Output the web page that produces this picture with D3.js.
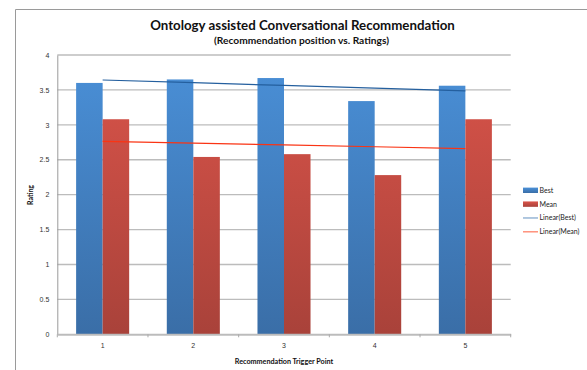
<!DOCTYPE html>
<html>
<head>
<meta charset="utf-8">
<script src="https://cdn.jsdelivr.net/npm/d3@7"></script>
<style>
  html, body { margin: 0; padding: 0; background: #fff; }
  svg { display: block; font-family: Lato, "Open Sans", sans-serif; }
</style>
</head>
<body>
<svg id="chart" width="587" height="370"></svg>
<script>
// Rating data per recommendation trigger point
const categories = ["1", "2", "3", "4", "5"];
const bestValues = [3.60, 3.65, 3.67, 3.34, 3.56];
const meanValues = [3.08, 2.54, 2.58, 2.28, 3.08];
const seriesNames = ["Best", "Mean"];
const yTicks = [0, 0.5, 1, 1.5, 2, 2.5, 3, 3.5, 4];
const yTickLabels = ["0", "0.5", "1", "1.5", "2", "2.5", "3", "3.5", "4"];
const legendLabels = ["Best", "Mean", "Linear(Best)", "Linear(Mean)"];

const svg = d3.select("#chart");
const plot = { left: 57.3, right: 510.7, top: 55, bottom: 334.3 };

// Chart frame
svg.append("path")
  .attr("d", "M15.5,600 V9.5 H700")
  .attr("fill", "none").attr("stroke", "#9a9a9a").attr("stroke-width", 1);

// Gradients for bars
const defs = svg.append("defs");
function grad(id, top, bottom, userSpace) {
  const g = defs.append("linearGradient").attr("id", id)
    .attr("x1", 0).attr("y1", 0).attr("x2", 0).attr("y2", 1);
  if (userSpace) {
    g.attr("gradientUnits", "userSpaceOnUse").attr("y1", plot.top).attr("y2", plot.bottom);
  }
  g.append("stop").attr("offset", "0%").attr("stop-color", top);
  g.append("stop").attr("offset", "100%").attr("stop-color", bottom);
}
grad("gBest", "#4a90d8", "#3a6ea7", true);
grad("gMean", "#da544a", "#a9423a", true);
grad("lgBest", "#4a90d8", "#3a6ea7", false);
grad("lgMean", "#da544a", "#a9423a", false);

const x = d3.scaleBand().domain(categories).range([plot.left, plot.right])
  .paddingInner(0.415).paddingOuter(0.2075);
const xs = d3.scaleBand().domain(seriesNames).range([0, x.bandwidth()]);
const xc = d3.scalePoint().domain(categories).range([plot.left, plot.right]).padding(0.5);
const y = d3.scaleLinear().domain([0, 4]).range([plot.bottom, plot.top]);

// Gridlines
svg.append("g").selectAll("line").data(yTicks.slice(1)).join("line")
  .attr("x1", plot.left).attr("x2", plot.right)
  .attr("y1", d => y(d)).attr("y2", d => y(d))
  .attr("stroke", "#bcbcbc").attr("stroke-width", 1.3);

// Y axis
const yAxis = svg.append("g").attr("transform", `translate(${plot.left},0)`)
  .call(d3.axisLeft(y).tickValues(yTicks).tickFormat((d, i) => yTickLabels[i]).tickSize(0).tickPadding(8));
yAxis.select(".domain").attr("stroke", "#9a9a9a").attr("stroke-width", 1);
yAxis.selectAll("text").attr("font-size", 7).attr("fill", "#333");

// Bars
const series = [
  { name: "Best", values: bestValues, fill: "url(#gBest)" },
  { name: "Mean", values: meanValues, fill: "url(#gMean)" }
];
series.forEach(s => {
  svg.append("g").selectAll("rect").data(categories).join("rect")
    .attr("x", c => x(c) + xs(s.name))
    .attr("width", xs.bandwidth())
    .attr("y", (c, i) => y(s.values[i]))
    .attr("height", (c, i) => y(0) - y(s.values[i]))
    .attr("fill", s.fill);
});

// X axis
const xAxis = svg.append("g").attr("transform", `translate(0,${plot.bottom})`)
  .call(d3.axisBottom(x).tickSize(0).tickPadding(9));
xAxis.select(".domain").attr("stroke", "#bcbcbc").attr("stroke-width", 2);
xAxis.selectAll("text").attr("font-size", 7).attr("fill", "#333");
// category separators
svg.append("g").selectAll("line").data(d3.range(categories.length + 1)).join("line")
  .attr("x1", i => plot.left + i * x.step()).attr("x2", i => plot.left + i * x.step())
  .attr("y1", plot.bottom).attr("y2", plot.bottom + 3)
  .attr("stroke", "#aaa").attr("stroke-width", 1);

// Linear trend lines (least squares fit)
function fit(vals) {
  const n = vals.length, xsv = d3.range(1, n + 1);
  const mx = d3.mean(xsv), my = d3.mean(vals);
  const slope = d3.sum(xsv, (xv, i) => (xv - mx) * (vals[i] - my)) / d3.sum(xsv, xv => (xv - mx) ** 2);
  return xsv.map(xv => my + slope * (xv - mx));
}
const line = d3.line().x((d, i) => xc(categories[i])).y(d => y(d));
svg.append("path").datum(fit(bestValues)).attr("d", line)
  .attr("fill", "none").attr("stroke", "#245f9e").attr("stroke-width", 1.2);
svg.append("path").datum(fit(meanValues)).attr("d", line)
  .attr("fill", "none").attr("stroke", "#fa3414").attr("stroke-width", 1.2);

// Titles
svg.append("text").attr("x", 302.5).attr("y", 29.5).attr("text-anchor", "middle")
  .attr("font-size", 13.3).attr("font-weight", "bold").attr("fill", "#111")
  .text("Ontology assisted Conversational Recommendation");
svg.append("text").attr("x", 301.5).attr("y", 43.5).attr("text-anchor", "middle")
  .attr("font-size", 10.2).attr("font-weight", "bold").attr("fill", "#111")
  .text("(Recommendation position vs. Ratings)");
svg.append("text").attr("x", 284).attr("y", 364).attr("text-anchor", "middle")
  .attr("font-size", 7.2).attr("font-weight", "bold").attr("fill", "#111")
  .text("Recommendation Trigger Point");
svg.append("text").attr("transform", "translate(33,195) rotate(-90)").attr("text-anchor", "middle")
  .attr("font-size", 7).attr("font-weight", "bold").attr("fill", "#111")
  .text("Rating");

// Legend
const legendStyles = [
  { type: "rect", fill: "url(#lgBest)" },
  { type: "rect", fill: "url(#lgMean)" },
  { type: "line", stroke: "#8fb0d2" },
  { type: "line", stroke: "#ff8a72" }
];
const ly = d3.scalePoint().domain(legendLabels).range([190.3, 231.8]);
const legend = svg.append("g");
legendLabels.forEach((lab, i) => {
  const st = legendStyles[i];
  const cy = ly(lab);
  if (st.type === "rect") {
    legend.append("rect").attr("x", 523).attr("y", cy - 2.7).attr("width", 15).attr("height", 5.4).attr("fill", st.fill);
  } else {
    legend.append("line").attr("x1", 523).attr("x2", 538).attr("y1", cy).attr("y2", cy)
      .attr("stroke", st.stroke).attr("stroke-width", 1.4);
  }
  legend.append("text").attr("x", 539.5).attr("y", cy + 2.5).attr("font-size", 7).attr("fill", "#222").text(lab);
});
</script>
</body>
</html>
